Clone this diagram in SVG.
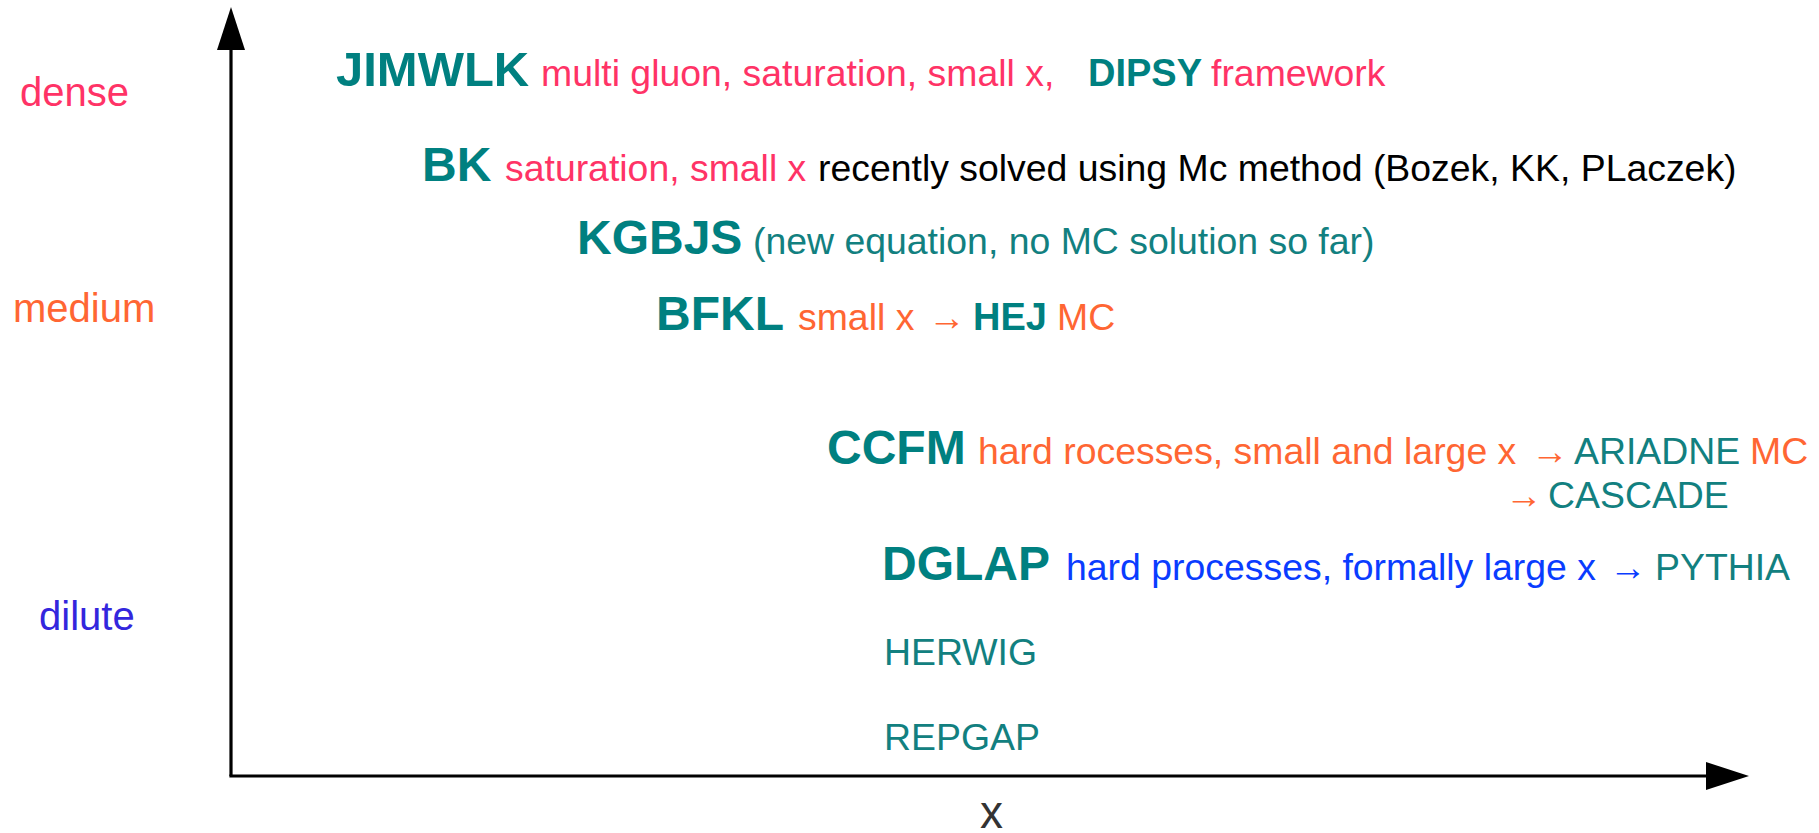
<svg xmlns="http://www.w3.org/2000/svg" width="1819" height="833" viewBox="0 0 1819 833">
<style>
text{font-family:"Liberation Sans",Arial,sans-serif;font-size:37.4px}
.b{font-weight:bold;font-size:48px;fill:#008080}
.bs{font-weight:bold;font-size:38px;fill:#008080}
.t{fill:#128080}
.p{fill:#ff3366}
.o{fill:#ff6633}
.k{fill:#000000}
.bl{fill:#0a3cff}
.side{font-size:40px}
.ax{stroke:#000;stroke-width:3.2;fill:none}
</style>
<defs>
<marker id="ah" markerUnits="userSpaceOnUse" markerWidth="44" markerHeight="30" refX="0" refY="14" orient="auto">
<path d="M0,0 L43,14 L0,28 Z" fill="#000"/>
</marker>
</defs>
<rect width="1819" height="833" fill="#fff"/>
<g id="connectors">
<line class="ax" x1="231" y1="776" x2="231" y2="50" marker-end="url(#ah)"/>
<line class="ax" x1="229.4" y1="776" x2="1706" y2="776" marker-end="url(#ah)"/>
</g>
<g id="labels">
<text x="20" y="106" class="side p">dense</text>
<text x="13" y="322" class="side o">medium</text>
<text x="39" y="630" class="side" fill="#3326dd">dilute</text>
<text x="980" y="828" style="font-size:46px" fill="#333">x</text>
</g>
<g id="jimwlk">
<text y="86"><tspan x="336" class="b" style="font-size:49px">JIMWLK</tspan><tspan x="541" class="p">multi gluon, saturation, small x,</tspan><tspan x="1088" class="bs">DIPSY</tspan><tspan x="1211" class="p">framework</tspan></text>
</g>
<g id="bk">
<text y="181"><tspan x="422" class="b">BK</tspan><tspan x="505" class="p">saturation, small x</tspan><tspan x="818" class="k">recently solved using Mc method (Bozek, KK, PLaczek)</tspan></text>
</g>
<g id="kgbjs">
<text y="254"><tspan x="577" class="b">KGBJS</tspan><tspan x="753" class="t">(new equation, no MC solution so far)</tspan></text>
</g>
<g id="bfkl">
<text y="330"><tspan x="656" class="b">BFKL</tspan><tspan x="798" class="o">small x</tspan><tspan x="928" class="o">→</tspan><tspan x="973" class="bs">HEJ</tspan><tspan x="1057" class="o">MC</tspan></text>
</g>
<g id="ccfm">
<text y="464"><tspan x="827" class="b">CCFM</tspan><tspan x="978" class="o">hard rocesses, small and large x</tspan><tspan x="1531" class="o">→</tspan><tspan x="1574" class="t">ARIADNE</tspan><tspan x="1750" class="o">MC</tspan></text>
<text y="508"><tspan x="1505" class="o">→</tspan><tspan x="1548" class="t">CASCADE</tspan></text>
</g>
<g id="dglap">
<text y="580"><tspan x="882" class="b">DGLAP</tspan><tspan x="1066" class="bl">hard processes, formally large x</tspan><tspan x="1609" class="bl">→</tspan><tspan x="1655" class="t">PYTHIA</tspan></text>
</g>
<g id="herwig"><text x="884" y="665" class="t">HERWIG</text></g>
<g id="repgap"><text x="884" y="750" class="t">REPGAP</text></g>
</svg>
